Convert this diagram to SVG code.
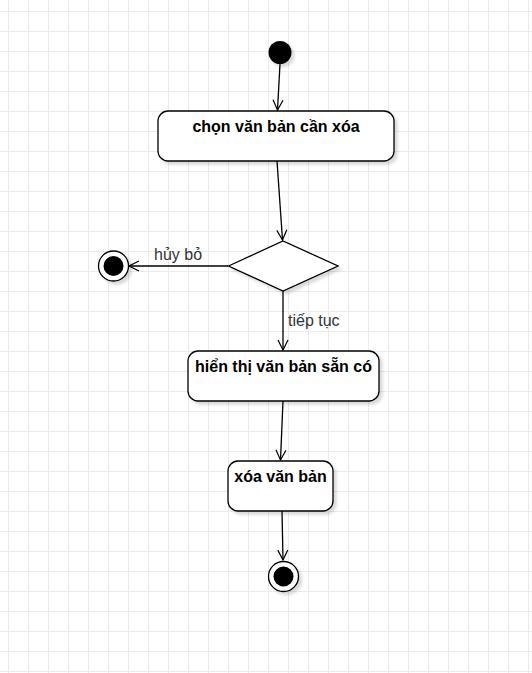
<svg xmlns="http://www.w3.org/2000/svg" width="532" height="673" viewBox="0 0 532 673">
<defs>
<pattern id="grid" x="8" y="11" width="20" height="20" patternUnits="userSpaceOnUse">
<path d="M0 0.5H20M0.5 0V20" fill="none" stroke="#ebebeb" stroke-width="1"/>
</pattern>
<filter id="sh" x="-20%" y="-20%" width="150%" height="150%">
<feDropShadow dx="3" dy="3" stdDeviation="1.5" flood-color="#000" flood-opacity="0.15"/>
</filter>
<marker id="open" viewBox="0 0 12 12" refX="11" refY="6" markerWidth="12" markerHeight="12" markerUnits="userSpaceOnUse" orient="auto">
<path d="M1 1L11 6L1 11" fill="none" stroke="#000" stroke-width="1.2"/>
</marker>
<style>
.box{fill:#fff;stroke:#000;stroke-width:1.3;filter:url(#sh)}
.t{font-family:"Liberation Sans",Arial,sans-serif;font-size:16px;font-weight:bold;fill:#000;text-anchor:middle}
.lbl{font-family:"Liberation Sans",Arial,sans-serif;font-size:16px;fill:#333}
.edge{fill:none;stroke:#000;stroke-width:1.3;marker-end:url(#open)}
</style>
</defs>
<rect width="532" height="673" fill="#fff"/>
<rect width="532" height="673" fill="url(#grid)"/>
<g id="connectors">
<path class="edge" d="M280 64L277.5 110"/>
<path class="edge" d="M277 161L282.5 240"/>
<path class="edge" d="M228 266H129"/>
<path class="edge" d="M283 291V350"/>
<path class="edge" d="M283 401L280.5 460"/>
<path class="edge" d="M282 511L283 560"/>
<text class="lbl" x="154" y="260">hủy bỏ</text>
<text class="lbl" x="288" y="326">tiếp tục</text>
</g>
<g id="start"><circle cx="280" cy="52.5" r="11.5" fill="#000" filter="url(#sh)"/></g>
<g id="chon"><rect class="box" x="158" y="111" width="236" height="50" rx="10"/><text class="t" x="276" y="132">chọn văn bản cần xóa</text></g>
<g id="decision"><path class="box" d="M228.5 266L283 241L338 266L283 291Z"/></g>
<g id="end1"><circle cx="113.5" cy="266" r="15" fill="#fff" stroke="#000" stroke-width="1.3" filter="url(#sh)"/><circle cx="113.5" cy="266" r="10" fill="#000"/></g>
<g id="hienthi"><rect class="box" x="188" y="351" width="191" height="50" rx="10"/><text class="t" x="283.5" y="372">hiển thị văn bản sẵn có</text></g>
<g id="xoa"><rect class="box" x="228" y="461" width="105" height="50" rx="10"/><text class="t" x="280.5" y="482">xóa văn bản</text></g>
<g id="end2"><circle cx="283.5" cy="576.5" r="15" fill="#fff" stroke="#000" stroke-width="1.3" filter="url(#sh)"/><circle cx="283.5" cy="576.5" r="10" fill="#000"/></g>
</svg>
